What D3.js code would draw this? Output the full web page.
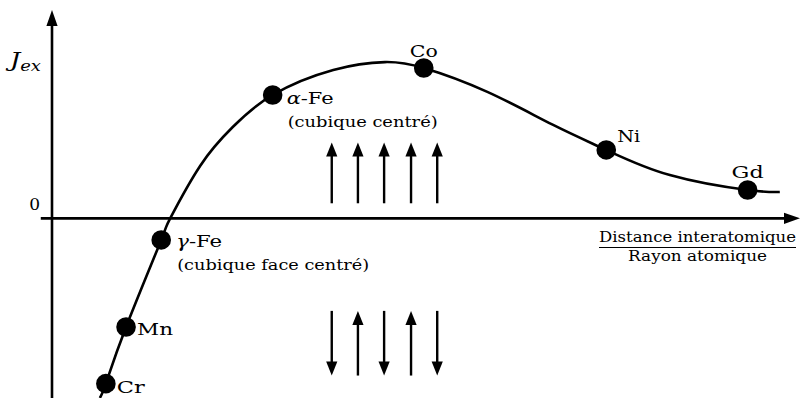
<!DOCTYPE html>
<html><head><meta charset="utf-8">
<script src="https://cdn.jsdelivr.net/npm/d3@7"></script>
<style>
body{margin:0;background:#fff}
svg{display:block}
text{font-family:"DejaVu Serif",serif;fill:#000}
</style>
</head><body>
<svg id="c" width="800" height="398"></svg>
<script>
// ---- data (arbitrary units: x = interatomic distance / atomic radius, y = J_ex) ----
const curveX = [6.4, 7.2, 9.9, 14.6, 15.8, 19.8, 24.2, 29.5, 37.6, 44.5, 49.7, 58.2, 67.0, 74.1, 82.6, 93.0, 97.3];
const curveY = [-100, -92, -60.5, -12, 0, 29.2, 51.0, 68.7, 82.6, 87.0, 83.7, 70.4, 52.0, 38.1, 24.1, 15.8, 14.7];
const elements = ["Cr", "Mn", "γ-Fe", "α-Fe", "Co", "Ni", "Gd"];
const elemX = [7.2, 9.9, 14.6, 29.5, 49.7, 74.1, 93.0];
const elemY = [-92, -60.5, -12, 68.7, 83.7, 38.1, 15.8];
const structures = ["", "", "(cubique face centré)", "(cubique centré)", "", "", ""];
const spinX = [37.4, 40.9, 44.4, 48.0, 51.5];
const ferroSpins = [1, 1, 1, 1, 1];      // 1 = up, -1 = down
const antiSpins = [-1, 1, -1, 1, -1];
const ferroRange = [8.4, 42.3];
const antiRange = [-87.5, -51.5];
const yTickLabels = ["0"];
const yTickValues = [0];
const xAxisLabelTop = "Distance interatomique";
const xAxisLabelBottom = "Rayon atomique";

// ---- scales ----
const svg = d3.select("#c");
const x = d3.scaleLinear().domain([0, 100]).range([52, 800]);
const y = d3.scaleLinear().domain([-100, 116]).range([398, 10]);

function head(tx, ty, dir, len, hw) {
  if (dir === "up") return `M${tx},${ty} L${tx - hw},${ty + len} L${tx + hw},${ty + len} Z`;
  if (dir === "down") return `M${tx},${ty} L${tx - hw},${ty - len} L${tx + hw},${ty - len} Z`;
  return `M${tx},${ty} L${tx - len},${ty - hw} L${tx - len},${ty + hw} Z`;
}

// ---- axes ----
const ax = svg.append("g");
ax.append("line").attr("x1", x(0)).attr("x2", x(0)).attr("y1", y(-100)).attr("y2", y(116) + 10)
  .attr("stroke", "#000").attr("stroke-width", 2.6);
ax.append("path").attr("d", head(x(0), y(116), "up", 16, 5.6)).attr("fill", "#000");
ax.append("line").attr("x1", x(-1.5)).attr("x2", x(100) - 10).attr("y1", y(0)).attr("y2", y(0))
  .attr("stroke", "#000").attr("stroke-width", 2.6);
ax.append("path").attr("d", head(x(100), y(0), "right", 16, 5.6)).attr("fill", "#000");

// y tick label
ax.selectAll("text.yt").data(yTickValues).join("text").attr("class", "yt")
  .attr("x", x(0) - 12).attr("y", d => y(d) - 8).attr("text-anchor", "end")
  .attr("font-size", 17).text((d, i) => yTickLabels[i]);

// J_ex label
const jl = ax.append("text").attr("x", 10).attr("y", 67).attr("font-size", 20)
  .attr("textLength", 31).attr("lengthAdjust", "spacingAndGlyphs");
jl.append("tspan").attr("font-style", "italic").text("J");
jl.append("tspan").attr("font-style", "italic").attr("font-size", 14).attr("dy", 4).text("ex");

// x axis label (fraction)
const fx = 697.5;
ax.append("text").attr("x", fx).attr("y", 242).attr("text-anchor", "middle").attr("font-size", 14.5)
  .attr("textLength", 197).attr("lengthAdjust", "spacingAndGlyphs").text(xAxisLabelTop);
ax.append("line").attr("x1", 599).attr("x2", 796).attr("y1", 247.5).attr("y2", 247.5).attr("stroke", "#000").attr("stroke-width", 1.2);
ax.append("text").attr("x", fx).attr("y", 261).attr("text-anchor", "middle").attr("font-size", 14.5)
  .attr("textLength", 139).attr("lengthAdjust", "spacingAndGlyphs").text(xAxisLabelBottom);

// ---- curve ----
const pts = curveX.map((v, i) => [x(v), y(curveY[i])]);
svg.append("path").attr("d", d3.line().curve(d3.curveNatural)(pts))
  .attr("fill", "none").attr("stroke", "#000").attr("stroke-width", 2.6);

// ---- points ----
svg.selectAll("circle.el").data(elements).join("circle").attr("class", "el")
  .attr("cx", (d, i) => x(elemX[i])).attr("cy", (d, i) => y(elemY[i])).attr("r", 9.8).attr("fill", "#000");

// label placement (pixel offsets from point) and rendered widths
const lab = {
  "Cr":   {dx: 11, dy: 9, anchor: "start", w: 28},
  "Mn":   {dx: 11, dy: 8, anchor: "start", w: 36},
  "γ-Fe": {dx: 15, dy: 7, anchor: "start", w: 46},
  "α-Fe": {dx: 14, dy: 9, anchor: "start", w: 47},
  "Co":   {dx: 0, dy: -11, anchor: "middle", w: 28},
  "Ni":   {dx: 11, dy: -8, anchor: "start", w: 23},
  "Gd":   {dx: 0, dy: -12, anchor: "middle", w: 32}
};
const structW = {"(cubique face centré)": 192, "(cubique centré)": 150};
elements.forEach((name, i) => {
  const p = lab[name];
  const t = svg.append("text").attr("x", x(elemX[i]) + p.dx).attr("y", y(elemY[i]) + p.dy)
    .attr("text-anchor", p.anchor).attr("font-size", 17.5)
    .attr("textLength", p.w).attr("lengthAdjust", "spacingAndGlyphs");
  if (name.includes("-")) {
    const [g, rest] = name.split("-");
    t.append("tspan").attr("font-style", "italic").text(g);
    t.append("tspan").text("-" + rest);
  } else t.text(name);
  if (structures[i]) {
    svg.append("text").attr("x", x(elemX[i]) + p.dx + 1).attr("y", y(elemY[i]) + p.dy + 23)
      .attr("font-size", 15.5).attr("textLength", structW[structures[i]]).attr("lengthAdjust", "spacingAndGlyphs")
      .text(structures[i]);
  }
});

// ---- spin arrows ----
function spins(arr, range) {
  arr.forEach((s, i) => {
    const cx = x(spinX[i]);
    const tail = s > 0 ? y(range[0]) : y(range[1]);
    const tip = s > 0 ? y(range[1]) : y(range[0]);
    svg.append("line").attr("x1", cx).attr("x2", cx).attr("y1", tail).attr("y2", tip + (s > 0 ? 10 : -10))
      .attr("stroke", "#000").attr("stroke-width", 2.4);
    svg.append("path").attr("d", head(cx, tip, s > 0 ? "up" : "down", 14, 5.6)).attr("fill", "#000");
  });
}
spins(ferroSpins, ferroRange);
spins(antiSpins, antiRange);
</script>
</body></html>
